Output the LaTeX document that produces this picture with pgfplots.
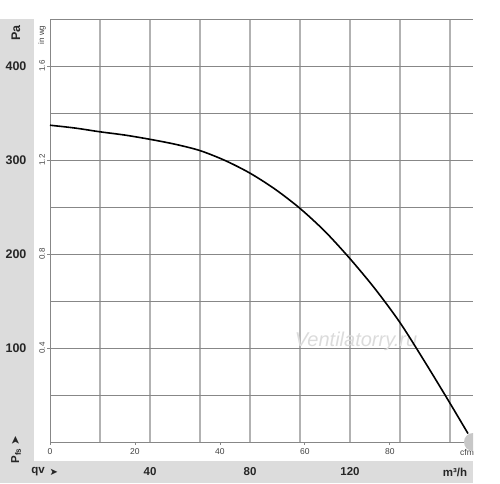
\documentclass[border=0pt]{standalone}
\usepackage{pgfplots}
\pgfplotsset{compat=1.18}
\usepackage{fontspec}
\setmainfont{Liberation Sans}
\newfontfamily\dejavu{DejaVu Sans}
\definecolor{band}{RGB}{220,220,220}
\definecolor{vgrid}{RGB}{178,178,178}
\definecolor{hgrid}{RGB}{135,135,135}
\begin{document}
\begin{tikzpicture}[x=1pt,y=1pt]
% grey bands on the left and at the bottom
\fill[band] (0,0) rectangle (34,464);
\fill[band] (0,0) rectangle (473,22);
\useasboundingbox (0,0) rectangle (500,483);
\begin{axis}[
    at={(50pt,41pt)}, anchor=south west,
    width=423pt, height=423pt, scale only axis,
    xmin=0, xmax=169.2, ymin=0, ymax=450,
    axis x line=bottom, axis y line=left,
    axis line style={-, draw=hgrid, line width=0.8pt},
    xtick={20,40,...,160}, ytick={50,100,...,450},
    xticklabels={}, yticklabels={},
    major tick length=0pt,
    xmajorgrids, ymajorgrids,
    x grid style={draw=vgrid, line width=1.5pt},
    y grid style={draw=hgrid, line width=0.8pt},
    clip=false,
]
% watermark
\node[font=\fontsize{20}{22}\selectfont\itshape, text=black!14] at (axis cs:122.4,107.4) {Ventilatorry.ru};

% fan curve, x in m3/h, y in Pa
\addplot[black, line width=1.6pt, smooth] coordinates {
    (0,337) (10,334) (20,330) (30,326.5) (40,322) (50,316.8) (60,310)
    (70,299.5) (80,286) (90,269) (100,248.5) (110,224) (120,195) (130,163)
    (140,127) (150,85) (159.6,43) (167.2,9)
};

% Pa labels in the grey band
\pgfplotsinvokeforeach{100,200,300,400}{
    \node[font=\fontsize{12.5}{14}\selectfont\bfseries, text=black!85] at (axis cs:-13.6,#1) {#1};
    \draw[hgrid, line width=0.8pt] (axis cs:0,#1) -- ++(-3pt,0);
}
\node[rotate=90, font=\fontsize{12.5}{14}\selectfont\bfseries, text=black!85] at (axis cs:-13.6,435) {Pa};

% in wg labels
\node[rotate=90, font=\fontsize{8}{9}\selectfont, text=black!75] at (axis cs:-3.2,433) {in wg};
\node[rotate=90, font=\fontsize{8}{9}\selectfont, text=black!75] at (axis cs:-3.2,400) {1.6};
\node[rotate=90, font=\fontsize{8}{9}\selectfont, text=black!75] at (axis cs:-3.2,300) {1.2};
\node[rotate=90, font=\fontsize{8}{9}\selectfont, text=black!75] at (axis cs:-3.2,200) {0.8};
\node[rotate=90, font=\fontsize{8}{9}\selectfont, text=black!75] at (axis cs:-3.2,100) {0.4};

% cfm scale under the axis
\pgfplotsinvokeforeach{0,20,40,60,80}{
    \draw[hgrid, line width=0.8pt] (axis cs:#1*1.699,0) -- ++(0,-3pt);
    \node[font=\fontsize{8.5}{10}\selectfont, text=black!75] at (axis cs:#1*1.699,-10.6) {#1};
}
\node[font=\fontsize{8.5}{10}\selectfont, text=black!75] at (axis cs:166.8,-10.6) {cfm};

% m3/h scale in the bottom band
\node[font=\fontsize{11.5}{13}\selectfont\bfseries, text=black!85] at (axis cs:-4.8,-31.9) {qv};
\node[font=\fontsize{10}{12}\selectfont\dejavu, text=black!85] at (axis cs:1.5,-31.9) {➤};
\pgfplotsinvokeforeach{40,80,120}{
    \node[font=\fontsize{11.5}{13}\selectfont\bfseries, text=black!85] at (axis cs:#1,-31.9) {#1};
}
\node[font=\fontsize{11.5}{13}\selectfont\bfseries, text=black!85] at (axis cs:162,-31.9) {m³/h};

% Pfs label
\node[rotate=90, font=\fontsize{11.5}{13}\selectfont\bfseries, text=black!85] at (axis cs:-13.6,-8) {P\textsubscript{fs} {\dejavu\mdseries ➤}};
\end{axis}
% logo circle cut at the band edge
\begin{scope}
\clip (0,0) rectangle (473,483);
\fill[black!22] (473,41) circle (9);
\end{scope}
\end{tikzpicture}
\end{document}
